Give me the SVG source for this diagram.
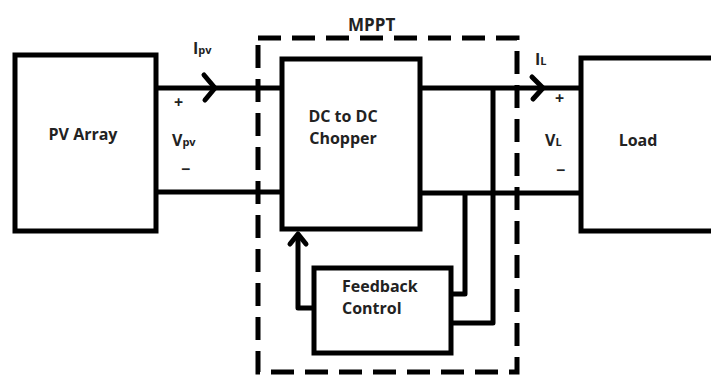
<svg xmlns="http://www.w3.org/2000/svg" width="711" height="376" viewBox="0 0 711 376">
<style>
.box{fill:#fff;stroke:#000;stroke-width:5}
.w{fill:none;stroke:#000;stroke-width:5;stroke-linejoin:round}
.arr{fill:none;stroke:#000;stroke-width:5;stroke-linecap:round;stroke-linejoin:round}
.t{font-family:"Open Sans","Liberation Sans",sans-serif;font-weight:700;font-size:16px;fill:#222}
.s{font-size:11px}
.dash{fill:none;stroke:#000;stroke-width:5;stroke-dasharray:23 11}
</style>
<rect width="711" height="376" fill="#fff"/>
<g id="connectors">
<path class="w" d="M158 88H280M158 192H280"/>
<path class="arr" d="M204 75L215 88L205 100"/>
<path class="w" d="M421 88H579M421 193H579"/>
<path class="arr" d="M532 77L543 88L533 99"/>
<path class="w" d="M493 88V323H451M465 193V294H451"/>
<path class="w" d="M312 308H298V234"/>
<path class="arr" d="M290 244L298 234L306 244"/>
</g>
<g id="mppt">
<rect class="dash" x="258" y="38" width="259" height="334"/>
<text class="t" x="348" y="31" style="font-size:17px">MPPT</text>
</g>
<g id="pv-array">
<rect class="box" x="15" y="55" width="141" height="176"/>
<text class="t" x="83" y="140" text-anchor="middle">PV Array</text>
</g>
<g id="chopper">
<rect class="box" x="282" y="59" width="138" height="170"/>
<text class="t" x="343" y="122" text-anchor="middle">DC to DC</text>
<text class="t" x="343" y="144" text-anchor="middle">Chopper</text>
</g>
<g id="feedback">
<rect class="box" x="314" y="268" width="137" height="85"/>
<text class="t" x="342" y="292">Feedback</text>
<text class="t" x="342" y="314">Control</text>
</g>
<g id="load">
<rect class="box" x="581" y="58" width="140" height="173"/>
<text class="t" x="638" y="146" text-anchor="middle">Load</text>
</g>
<g id="labels">
<text class="t" x="193" y="54">I<tspan class="s">pv</tspan></text>
<text class="t" x="174" y="108">+</text>
<text class="t" x="172" y="146">V<tspan class="s">pv</tspan></text>
<text class="t" x="181" y="175">−</text>
<text class="t" x="535" y="65">I<tspan class="s">L</tspan></text>
<text class="t" x="555" y="104">+</text>
<text class="t" x="545" y="146">V<tspan class="s">L</tspan></text>
<text class="t" x="556" y="176">−</text>
</g>
</svg>
